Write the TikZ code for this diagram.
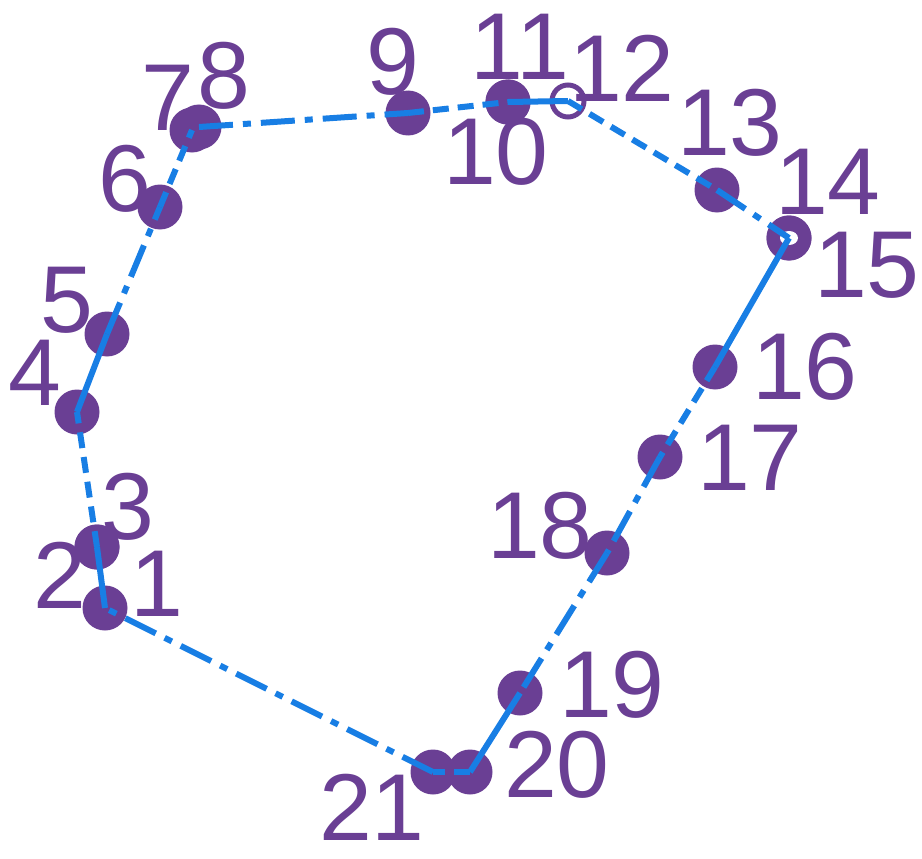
\documentclass[tikz,border=0pt]{standalone}
\usepackage{fontspec}
\setmainfont{Liberation Sans}
\definecolor{ptc}{RGB}{106,63,148}
\definecolor{lnc}{RGB}{24,126,228}
\begin{document}
\begin{tikzpicture}[x=1pt,y=-1pt,
  dot/.style={circle,fill=ptc,minimum size=45pt,inner sep=0pt},
  ringdot/.style={circle,draw=ptc,line width=5pt,fill=white,minimum size=32pt,inner sep=0pt},
  lbl/.style={text=ptc,font=\fontsize{95}{95}\selectfont,inner sep=0pt},
  seg/.style={draw=lnc,line width=6pt},
  solidseg/.style={seg},
  dashseg/.style={seg,dash pattern=on 16pt off 9pt},
  dotdashseg/.style={seg,dash pattern=on 34pt off 10pt on 8pt off 10pt}]
\useasboundingbox (0,0) rectangle (922,859);
% points
\node[dot] (p1) at (105,608) {};
\node[dot] (p2) at (97,547) {};
\node[dot] (p3) at (97,547) {};
\node[dot] (p4) at (77,412) {};
\node[dot] (p5) at (107,334) {};
\node[dot] (p6) at (160,207) {};
\node[dot] (p7) at (192,130) {};
\node[dot] (p8) at (199,127) {};
\node[dot] (p9) at (408,113) {};
\node[dot] (p10) at (508,102) {};
\node[dot] (p11) at (508,102) {};
\node[ringdot] (p12) at (568,101) {};
\node[dot] (p13) at (717,190) {};
\node[dot] (p14) at (789,238) {};
\node[dot] (p15) at (789,238) {};
\fill[white] (p15.center) ellipse (9pt and 7pt);
\node[dot] (p16) at (715,367) {};
\node[dot] (p17) at (660,457) {};
\node[dot] (p18) at (607,553) {};
\node[dot] (p19) at (520,693) {};
\node[dot] (p20) at (470,772) {};
\node[dot] (p21) at (433,772) {};
% connectors
\draw[solidseg] (p1.center) -- (p2.center);
\draw[dashseg] (p3.center) -- (p4.center);
\draw[solidseg] (p4.center) -- (p5.center);
\draw[dotdashseg] (p5.center) -- (p6.center);
\draw[dashseg] (p6.center) -- (p7.center);
\draw[dotdashseg] (p8.center) -- (p9.center);
\draw[dashseg] (p9.center) -- (p10.center);
\draw[solidseg] (p11.center) -- (p12.center);
\draw[dashseg] (p12.center) -- (p13.center);
\draw[dotdashseg] (p13.center) -- (p14.center);
\draw[solidseg] (p15.center) -- (p16.center);
\draw[dashseg] (p16.center) -- (p17.center);
\draw[dotdashseg] (p17.center) -- (p18.center);
\draw[dotdashseg] (p18.center) -- (p19.center);
\draw[solidseg] (p19.center) -- (p20.center);
\draw[dashseg] (p20.center) -- (p21.center);
\draw[dotdashseg] (p21.center) -- (p1.center);
% labels
\node[lbl] (l1) at (157,584) {1};
\node[lbl] (l2) at (60,575) {2};
\node[lbl] (l3) at (128,507) {3};
\node[lbl] (l4) at (35,373) {4};
\node[lbl] (l5) at (67,300) {5};
\node[lbl] (l6) at (125,179) {6};
\node[lbl] (l7) at (168,98) {7};
\node[lbl] (l8) at (224,76) {8};
\node[lbl] (l9) at (393,62) {9};
\node[lbl] (l10) at (496,152) {10};
\node[lbl] (l11) at (520,47) {11};
\node[lbl] (l12) at (622,68) {12};
\node[lbl] (l13) at (730,123) {13};
\node[lbl] (l14) at (828,182) {14};
\node[lbl] (l15) at (867,265) {15};
\node[lbl] (l16) at (805,367) {16};
\node[lbl] (l17) at (750,458) {17};
\node[lbl] (l18) at (540,526) {18};
\node[lbl] (l19) at (612,685) {19};
\node[lbl] (l20) at (557,765) {20};
\node[lbl] (l21) at (372,807) {21};
\end{tikzpicture}
\end{document}
